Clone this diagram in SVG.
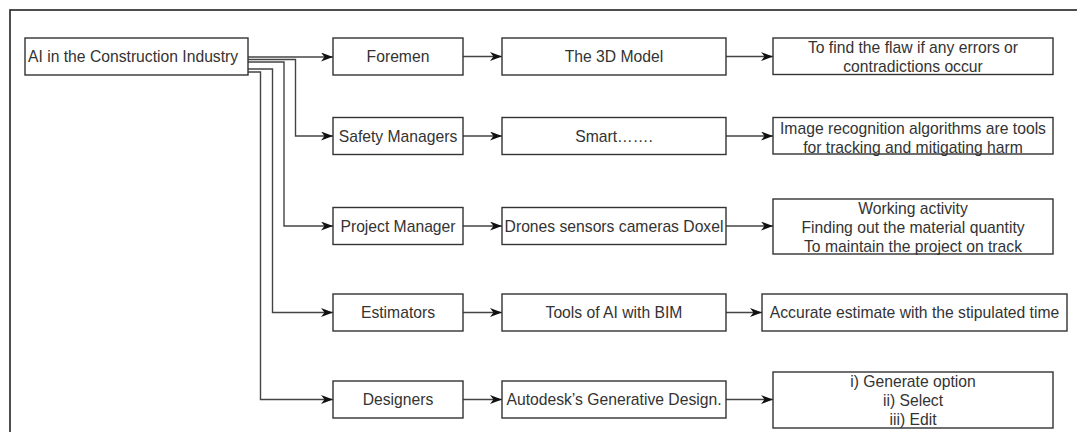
<svg xmlns="http://www.w3.org/2000/svg" width="1077" height="432" viewBox="0 0 1077 432">
  <defs>
    <marker id="arrow" viewBox="0 0 12 9" refX="12" refY="4.5" markerWidth="12" markerHeight="9" markerUnits="userSpaceOnUse" orient="auto">
      <path d="M0,0 L12,4.5 L0,9 L3.5,4.5 z" fill="#111"/>
    </marker>
  </defs>
  <style>
    .box { fill: #fff; stroke: #333; stroke-width: 1.4; }
    .frame { fill: none; stroke: #222; stroke-width: 1.6; }
    .wire { fill: none; stroke: #444; stroke-width: 1.4; }
    .arr { marker-end: url(#arrow); }
    text { font-family: "Liberation Sans", Arial, sans-serif; font-size: 15.7px; fill: #333; }
    .c { text-anchor: middle; }
  </style>
  <rect width="1077" height="432" fill="#fff"/>
  <rect class="frame" x="10" y="10" width="1100" height="450"/>

  <g id="connectors">
    <path class="wire arr" d="M248,57 H333"/>
    <path class="wire arr" d="M248,59.5 H295.5 V136 H333"/>
    <path class="wire arr" d="M248,62 H284 V226 H333"/>
    <path class="wire arr" d="M248,69 H272.5 V312.5 H333"/>
    <path class="wire arr" d="M248,72 H260.5 V399.5 H333"/>

    <path class="wire arr" d="M463,56.5 H502"/>
    <path class="wire arr" d="M463,136 H502"/>
    <path class="wire arr" d="M463,226 H502"/>
    <path class="wire arr" d="M463,312.5 H502"/>
    <path class="wire arr" d="M463,399.5 H502"/>

    <path class="wire arr" d="M726,56.5 H773"/>
    <path class="wire arr" d="M726,136 H773"/>
    <path class="wire arr" d="M726,226 H773"/>
    <path class="wire arr" d="M726,312.5 H762"/>
    <path class="wire arr" d="M726,399.5 H773"/>
  </g>

  <g id="root">
    <rect class="box" x="25" y="38" width="223" height="37"/>
    <text x="28" y="62">AI in the Construction Industry</text>
  </g>

  <g id="foremen">
    <rect class="box" x="333" y="38" width="130" height="37"/>
    <text class="c" x="398" y="62">Foremen</text>
  </g>
  <g id="model3d">
    <rect class="box" x="502" y="38" width="224" height="37"/>
    <text class="c" x="614" y="62">The 3D Model</text>
  </g>
  <g id="flaw">
    <rect class="box" x="773" y="38" width="280" height="36.5"/>
    <text class="c" x="913" y="53">To find the flaw if any errors or</text>
    <text class="c" x="913" y="72">contradictions occur</text>
  </g>

  <g id="safety">
    <rect class="box" x="333" y="117.5" width="130" height="37"/>
    <text class="c" x="398" y="141.5">Safety Managers</text>
  </g>
  <g id="smart">
    <rect class="box" x="502" y="117.5" width="224" height="37"/>
    <text class="c" x="614" y="141.5">Smart…….</text>
  </g>
  <g id="recognition">
    <rect class="box" x="773" y="117.5" width="280" height="36.5"/>
    <text class="c" x="913" y="134">Image recognition algorithms are tools</text>
    <text class="c" x="913" y="153">for tracking and mitigating harm</text>
  </g>

  <g id="project">
    <rect class="box" x="333" y="207.5" width="130" height="37"/>
    <text class="c" x="398" y="231.5">Project Manager</text>
  </g>
  <g id="drones">
    <rect class="box" x="502" y="207.5" width="224" height="37"/>
    <text class="c" x="614" y="231.5">Drones sensors cameras Doxel</text>
  </g>
  <g id="working">
    <rect class="box" x="773" y="199" width="280" height="55"/>
    <text class="c" x="913" y="214">Working activity</text>
    <text class="c" x="913" y="233">Finding out the material quantity</text>
    <text class="c" x="913" y="252">To maintain the project on track</text>
  </g>

  <g id="estimators">
    <rect class="box" x="333" y="294" width="130" height="37"/>
    <text class="c" x="398" y="318">Estimators</text>
  </g>
  <g id="bim">
    <rect class="box" x="502" y="294" width="224" height="37"/>
    <text class="c" x="614" y="318">Tools of AI with BIM</text>
  </g>
  <g id="estimate">
    <rect class="box" x="762" y="294" width="305" height="37"/>
    <text class="c" x="914.5" y="318">Accurate estimate with the stipulated time</text>
  </g>

  <g id="designers">
    <rect class="box" x="333" y="381" width="130" height="37"/>
    <text class="c" x="398" y="405">Designers</text>
  </g>
  <g id="generative">
    <rect class="box" x="502" y="381" width="224" height="37"/>
    <text class="c" x="614" y="405">Autodesk’s Generative Design.</text>
  </g>
  <g id="options">
    <rect class="box" x="773" y="372" width="280" height="56"/>
    <text class="c" x="913" y="387">i) Generate option</text>
    <text class="c" x="913" y="406">ii) Select</text>
    <text class="c" x="913" y="425">iii) Edit</text>
  </g>
</svg>
